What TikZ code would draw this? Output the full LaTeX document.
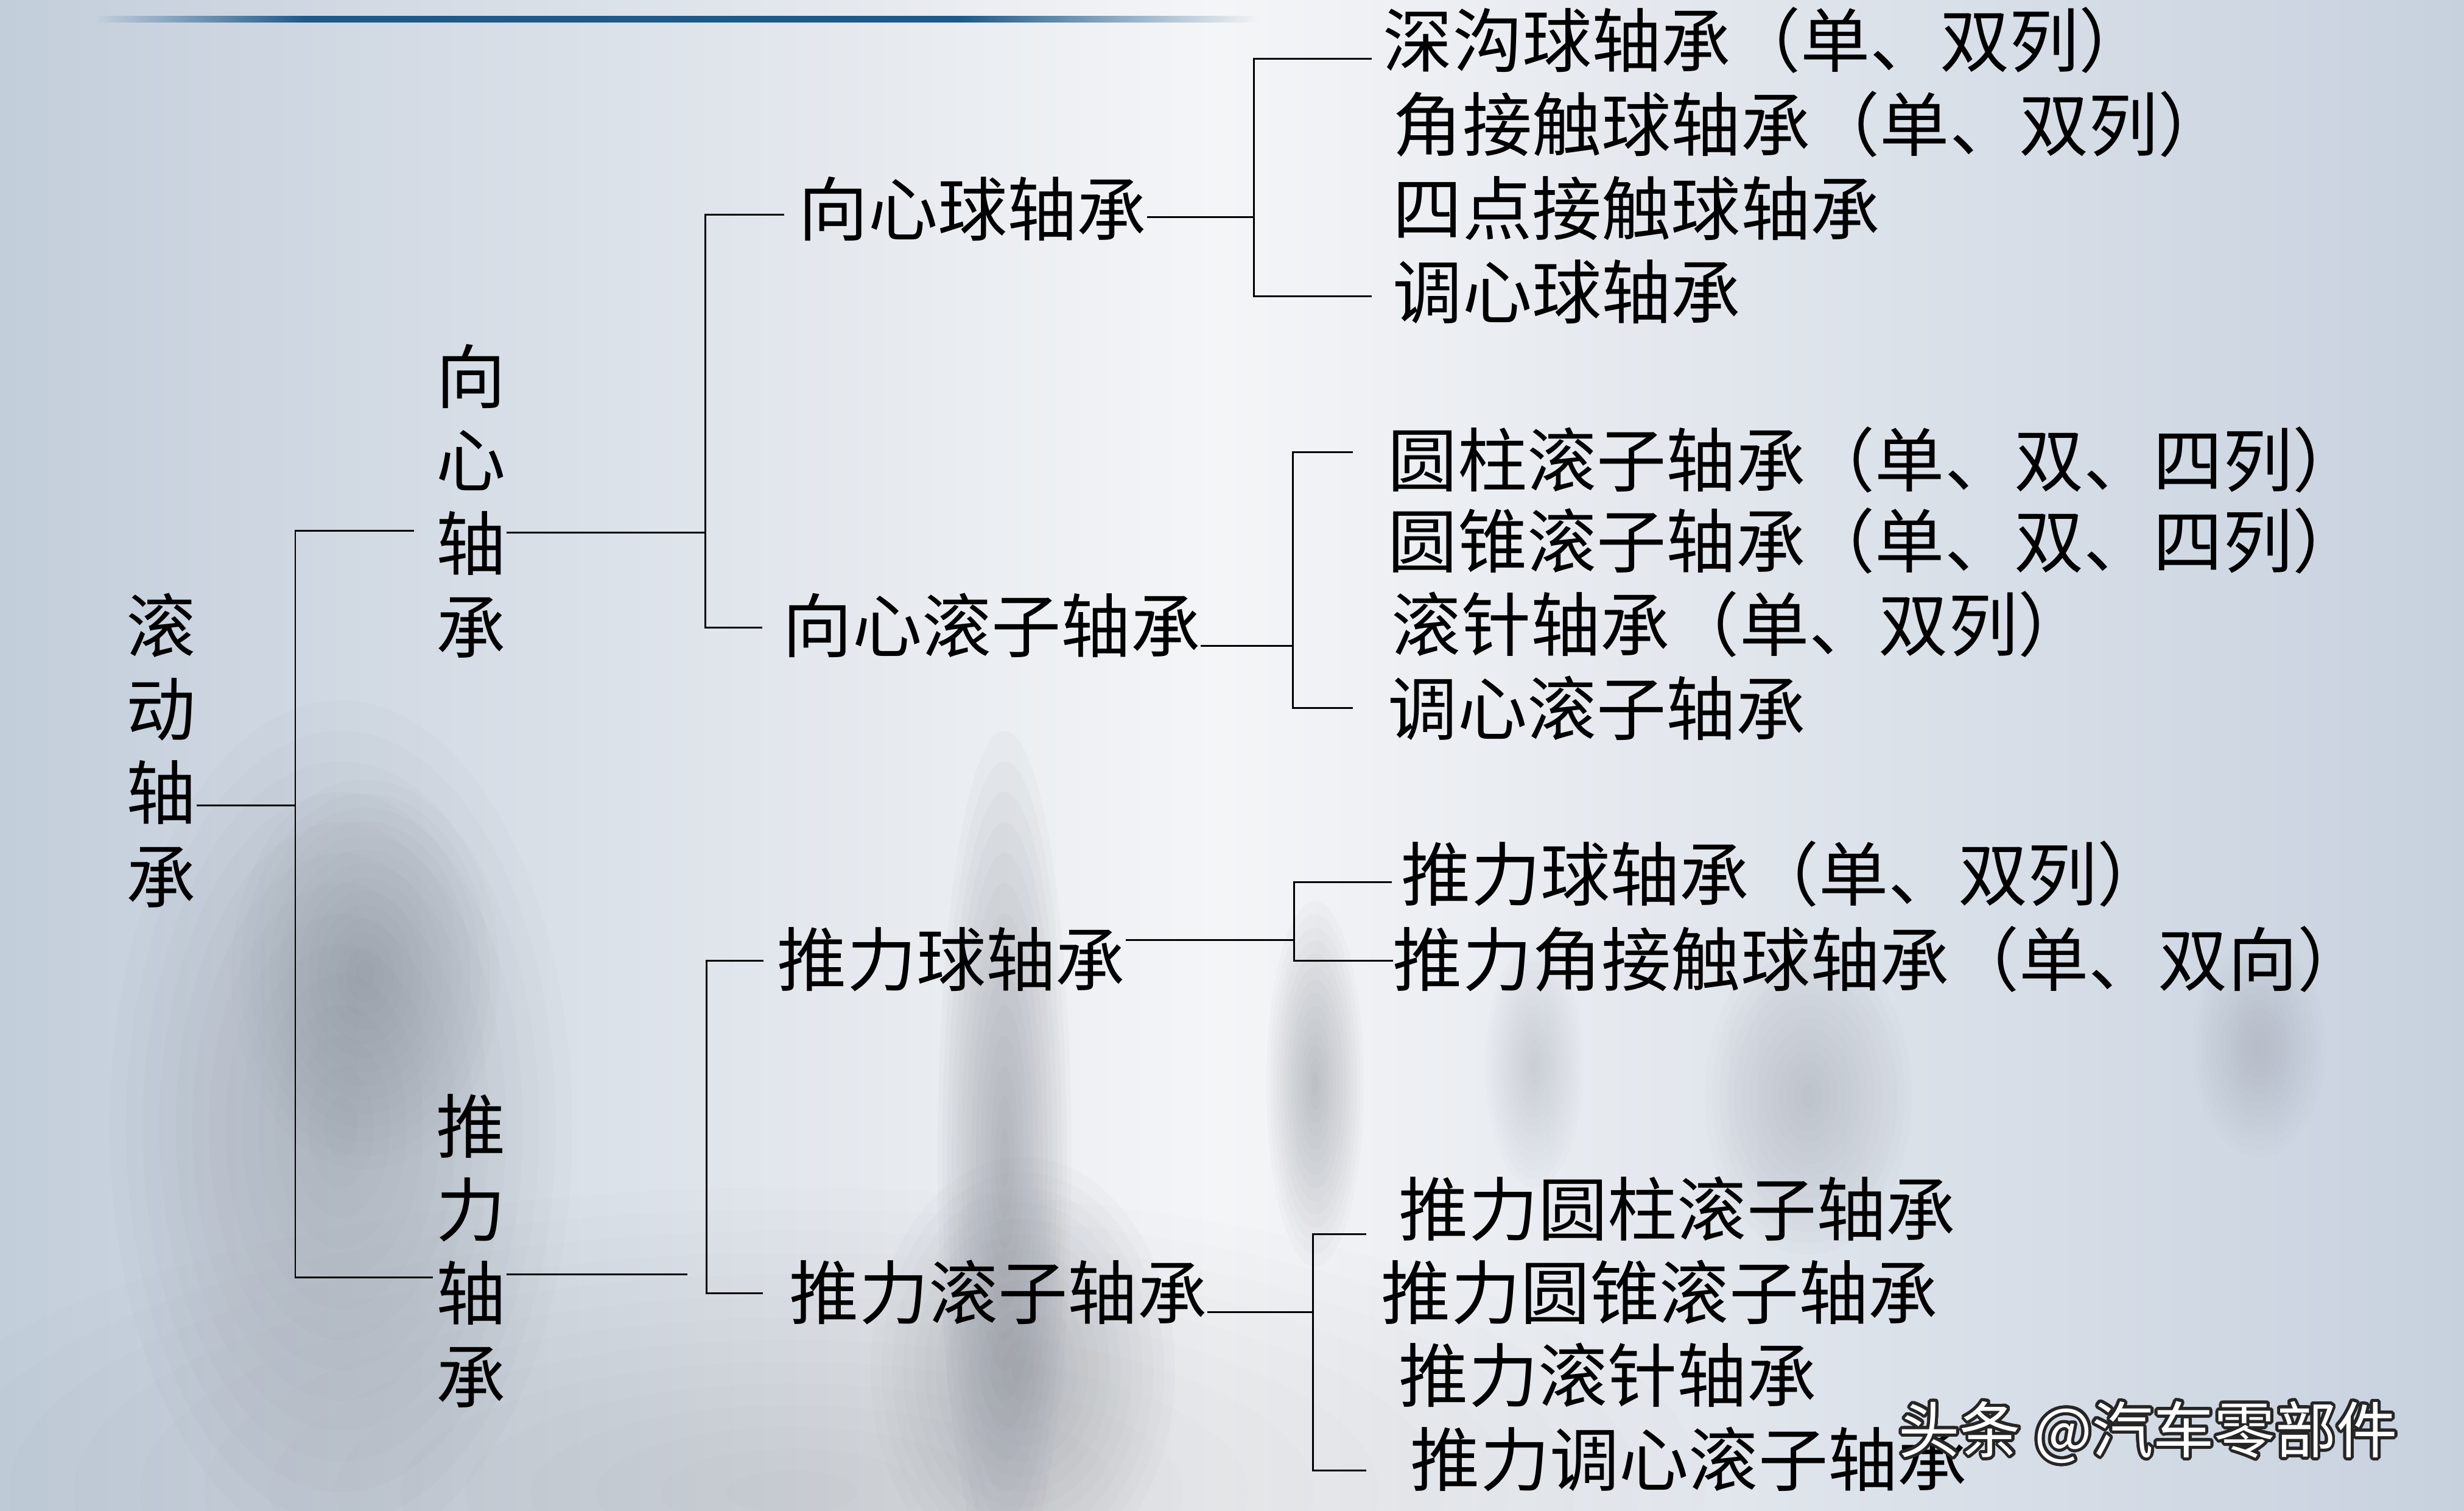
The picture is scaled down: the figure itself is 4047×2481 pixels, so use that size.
\documentclass[tikz,border=0pt]{standalone}
\usepackage{fontspec}
\usepackage[copies]{contour}
\newfontfamily\cjk{Noto Sans CJK SC}
\definecolor{bgside}{HTML}{C3CEDB}
\definecolor{bgmid}{HTML}{F4F5F7}
\definecolor{bgright}{HTML}{C7D1DE}
\definecolor{bardark}{HTML}{1D5A8A}
\definecolor{barlight}{HTML}{3A8FCF}
\definecolor{fogc}{HTML}{7E838D}
% soft blob: centre x, centre y, x radius, y radius, layer opacity
\newcommand\fogblob[5]{%
  \foreach \k in {1,...,14}{%
    \fill[fogc,fill opacity=#5] (#1,#2) ellipse ({#3/14*\k} and {#4/14*\k});}}
\contourlength{1.4pt}
\contournumber{24}

\begin{document}
\begin{tikzpicture}[
  x=0.01cm,
  y=-0.01cm,
  link/.style={draw=black,line width=0.85pt},
  vlabel/.style={align=center,inner sep=0pt,
    font=\cjk\fontsize{32.5}{39}\selectfont},
  midlabel/.style={anchor=west,inner sep=0pt,
    font=\cjk\fontsize{32.5}{39}\selectfont},
  leaf/.style={anchor=west,inner sep=0pt,
    font=\cjk\fontsize{32.5}{39}\selectfont},
  stamp/.style={anchor=west,inner sep=0pt,text=white,
    font=\cjk\fontsize{28.5}{34}\selectfont}
]
  \useasboundingbox (0,0) rectangle (4047,2481);

  % background and misty skyline
  \shade[left color=bgside,right color=bgmid] (0,0) rectangle (2000,2481);
  \shade[left color=bgmid,right color=bgright] (1999,0) rectangle (4047,2481);
  \fogblob{1300}{2450}{1500}{500}{0.015}
  \fogblob{560}{1850}{380}{700}{0.03}
  \fogblob{600}{1600}{220}{320}{0.03}
  \fogblob{1650}{1900}{110}{700}{0.045}
  \fogblob{1680}{2250}{250}{350}{0.03}
  \fogblob{2160}{1780}{80}{300}{0.035}
  \fogblob{2520}{1750}{80}{200}{0.02}
  \fogblob{2970}{1800}{170}{260}{0.025}
  \fogblob{3710}{1720}{110}{180}{0.015}

  % title bar
  \shade[left color=bgside,right color=bardark] (160,26) rectangle (500,36);
  \shade[left color=bardark,middle color=barlight,right color=bardark]
    (500,26) rectangle (1580,36);
  \shade[left color=bardark,right color=bgmid] (1580,26) rectangle (2070,36);

  % level 0 and 1
  \node[vlabel] (gd) at (265,1232) {滚\\动\\轴\\承};
  \node[vlabel] (xx) at (774,823) {向\\心\\轴\\承};
  \node[vlabel] (tl) at (774,2054) {推\\力\\轴\\承};

  % level 2
  \node[midlabel] (xq) at (1311,343) {向心球轴承};
  \node[midlabel] (xg) at (1285,1027) {向心滚子轴承};
  \node[midlabel] (tq) at (1276,1575) {推力球轴承};
  \node[midlabel] (tg) at (1296,2122) {推力滚子轴承};

  % level 3
  \node[leaf] (l1) at (2271,66) {深沟球轴承（单、双列）};
  \node[leaf] (l2) at (2287,204) {角接触球轴承（单、双列）};
  \node[leaf] (l3) at (2287,342) {四点接触球轴承};
  \node[leaf] (l4) at (2287,479) {调心球轴承};
  \node[leaf] (l5) at (2279,755) {圆柱滚子轴承（单、双、四列）};
  \node[leaf] (l6) at (2279,888) {圆锥滚子轴承（单、双、四列）};
  \node[leaf] (l7) at (2285,1025) {滚针轴承（单、双列）};
  \node[leaf] (l8) at (2279,1163) {调心滚子轴承};
  \node[leaf] (l9) at (2301,1435) {推力球轴承（单、双列）};
  \node[leaf] (l10) at (2287,1575) {推力角接触球轴承（单、双向）};
  \node[leaf] (l11) at (2297,1985) {推力圆柱滚子轴承};
  \node[leaf] (l12) at (2268,2122) {推力圆锥滚子轴承};
  \node[leaf] (l13) at (2297,2258) {推力滚针轴承};
  \node[leaf] (l14) at (2316,2396) {推力调心滚子轴承};

  % bracket corners
  \coordinate (j0) at (485,1322);
  \coordinate (ra) at (680,871);
  \coordinate (rb) at (711,2097);
  \coordinate (k0) at (1158,874);
  \coordinate (ka) at (1288,352);
  \coordinate (kb) at (1252,1030);
  \coordinate (m0) at (2059,356);
  \coordinate (ma) at (2253,96);
  \coordinate (mb) at (2253,486);
  \coordinate (n0) at (2123,1060);
  \coordinate (na) at (2222,742);
  \coordinate (nb) at (2222,1162);
  \coordinate (p1) at (1129,2092);
  \coordinate (p0) at (1160,2092);
  \coordinate (pa) at (1254,1577);
  \coordinate (pb) at (1253,2123);
  \coordinate (q0) at (2125,1543);
  \coordinate (qa) at (2286,1448);
  \coordinate (qb) at (2288,1577);
  \coordinate (s0) at (2156,2154);
  \coordinate (sa) at (2244,2026);
  \coordinate (sb) at (2244,2414);

  % connectors
  \draw[link] (gd.east |- j0) -- (j0);
  \draw[link] (ra) -| (j0) |- (rb);
  \draw[link] (xx.east |- k0) -- (k0);
  \draw[link] (ka) -| (k0) |- (kb);
  \draw[link] (tl.east |- p1) -- (p1);
  \draw[link] (pa) -| (p0) |- (pb);
  \draw[link] (xq.east |- m0) -- (m0);
  \draw[link] (ma) -| (m0) |- (mb);
  \draw[link] (xg.east |- n0) -- (n0);
  \draw[link] (na) -| (n0) |- (nb);
  \draw[link] (tq.east |- q0) -- (q0);
  \draw[link] (qa) -| (q0) |- (qb);
  \draw[link] (tg.east |- s0) -- (s0);
  \draw[link] (sa) -| (s0) |- (sb);

  % watermark
  \node[stamp] (wmark) at (3118,2354) {\contour{black!85}{头条 @汽车零部件}};
\end{tikzpicture}
\end{document}
